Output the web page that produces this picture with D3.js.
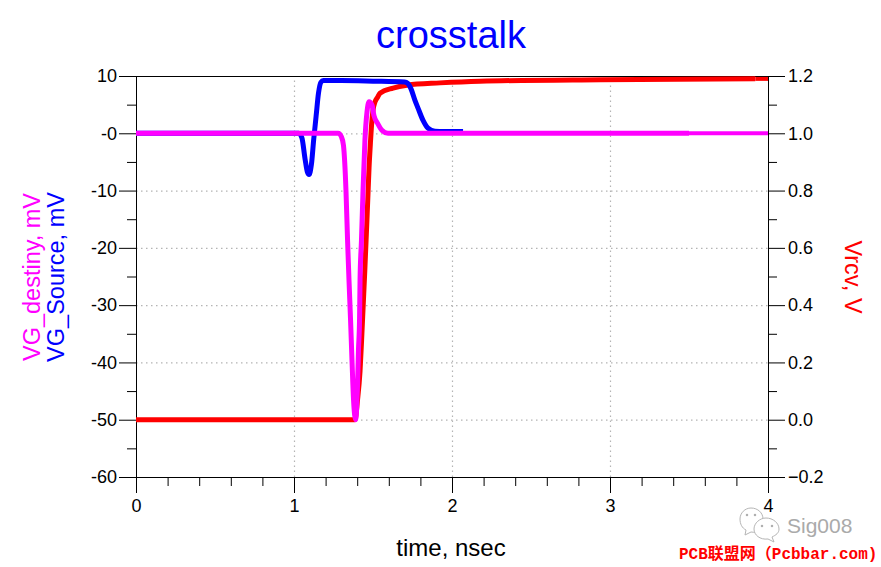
<!DOCTYPE html>
<html>
<head>
<meta charset="utf-8">
<script src="https://cdn.jsdelivr.net/npm/d3@7"></script>
<style>
  html, body { margin: 0; padding: 0; background: #fff; }
  svg { display: block; }
  text { font-family: "Liberation Sans", Arial, sans-serif; }
  .domain { stroke: #000; }
  .grid line { stroke: #b4b4b4; stroke-width: 1.2; stroke-dasharray: 1.5 3.5; }
  .grid .domain { display: none; }
</style>
</head>
<body>
<div id="chart"></div>
<script>
// values
const sourceTime = [0, 1.03, 1.05, 1.07, 1.085, 1.095, 1.11, 1.125, 1.14, 1.155, 1.17, 1.185, 1.3, 1.5, 1.7, 1.72, 1.74, 1.765, 1.785, 1.816, 1.848, 1.892, 1.95, 2.07];
const sourceMv = [0, 0, -0.8, -4.5, -6.8, -7.2, -5.5, -1, 3, 7, 8.9, 9.2, 9.2, 9.1, 8.95, 8.7, 7.8, 5.8, 4.4, 2.3, 0.9, 0.35, 0.3, 0.3];

const destinyTime = [0, 1.28, 1.3, 1.313, 1.329, 1.339, 1.348, 1.358, 1.367, 1.377, 1.39, 1.402, 1.408, 1.415, 1.418, 1.427, 1.437, 1.449, 1.462, 1.475, 1.494, 1.506, 1.532, 1.557, 1.595, 2, 3, 3.5];
const destinyMv = [0, 0, -0.6, -2.1, -10, -18.7, -25.6, -32.6, -39.6, -46.6, -50, -44, -37.9, -32.3, -25.6, -18.7, -9.9, -1.2, 3.7, 5.5, 4.9, 3.1, 1.6, 0.5, 0, 0, 0, 0];

const rcvTime = [0, 1.386, 1.402, 1.418, 1.428, 1.438, 1.448, 1.458, 1.467, 1.475, 1.483, 1.491, 1.5, 1.513, 1.53, 1.544, 1.627, 1.715, 1.924, 2.177, 2.94, 3.92];
const rcvV = [0, 0, 0.069, 0.17, 0.28, 0.4, 0.52, 0.65, 0.77, 0.88, 0.96, 1.03, 1.08, 1.11, 1.127, 1.14, 1.158, 1.168, 1.176, 1.182, 1.187, 1.19];

const timeTicks = [0, 1, 2, 3, 4];
const timeMinor = [0.2, 0.4, 0.6, 0.8, 1.2, 1.4, 1.6, 1.8, 2.2, 2.4, 2.6, 2.8, 3.2, 3.4, 3.6, 3.8];
const mvTicks = [10, 0, -10, -20, -30, -40, -50, -60];
const mvLabels = ["10", "-0", "-10", "-20", "-30", "-40", "-50", "-60"];
const mvMinor = [5, -5, -15, -25, -35, -45, -55];
const vTicks = [1.2, 1, 0.8, 0.6, 0.4, 0.2, 0, -0.2];
const vMinor = [1.1, 0.9, 0.7, 0.5, 0.3, 0.1, -0.1];

const width = 881, height = 567;
const left = 136, right = 768, top_ = 76, bottom = 477;

const x = d3.scaleLinear().domain([0, 4]).range([left, right]);
const yMv = d3.scaleLinear().domain([-60, 10]).range([bottom, top_]);
const yV = d3.scaleLinear().domain([-0.2, 1.2]).range([bottom, top_]);

const svg = d3.select("#chart").append("svg").attr("width", width).attr("height", height);

// grid
svg.append("g").attr("class", "grid")
  .attr("transform", `translate(0,${bottom})`)
  .call(d3.axisBottom(x).tickValues(timeTicks.slice(1, -1)).tickSize(top_ - bottom).tickFormat(""));
svg.append("g").attr("class", "grid")
  .attr("transform", `translate(${left},0)`)
  .call(d3.axisRight(yMv).tickValues(mvTicks.slice(1, -1)).tickSize(right - left).tickFormat(""));

// top line
svg.append("line").attr("x1", left).attr("x2", right).attr("y1", top_ + 0.5).attr("y2", top_ + 0.5).attr("stroke", "#000");

// minor ticks first, majors on top
svg.append("g").attr("transform", `translate(0,${bottom})`)
  .call(d3.axisBottom(x).tickValues(timeMinor).tickSize(9).tickSizeOuter(0).tickFormat(""));
svg.append("g").attr("transform", `translate(${left},0)`)
  .call(d3.axisLeft(yMv).tickValues(mvMinor).tickSize(9).tickSizeOuter(0).tickFormat(""));
svg.append("g").attr("transform", `translate(${right},0)`)
  .call(d3.axisRight(yV).tickValues(vMinor).tickSize(9).tickSizeOuter(0).tickFormat(""));

const xAxis = svg.append("g").attr("transform", `translate(0,${bottom})`)
  .call(d3.axisBottom(x).tickValues(timeTicks).tickSize(16).tickSizeOuter(0).tickPadding(6).tickFormat(d3.format("d")));
const mvAxis = svg.append("g").attr("transform", `translate(${left},0)`)
  .call(d3.axisLeft(yMv).tickValues(mvTicks).tickSize(17).tickSizeOuter(0).tickPadding(2).tickFormat((d, i) => mvLabels[i]));
const vAxis = svg.append("g").attr("transform", `translate(${right},0)`)
  .call(d3.axisRight(yV).tickValues(vTicks).tickSize(17).tickSizeOuter(0).tickPadding(3).tickFormat(d3.format(".1f")));

[xAxis, mvAxis, vAxis].forEach((a) => {
  a.selectAll("text").style("font-size", "18px").attr("fill", "#000");
  a.selectAll("line").attr("stroke", "#000");
});

// curves
const line = (yScale) => d3.line().x((d) => x(d[0])).y((d) => yScale(d[1])).curve(d3.curveMonotoneX);

function drawCurve(points, yScale, color, w) {
  svg.append("path")
    .datum(points)
    .attr("d", line(yScale))
    .attr("fill", "none")
    .attr("stroke", color)
    .attr("stroke-width", w);
}

const rcvPoints = d3.zip(rcvTime, rcvV);
drawCurve(rcvPoints, yV, "#ff0000", 5);
drawCurve([rcvPoints[rcvPoints.length - 1], [4, 1.19]], yV, "#ff0000", 4);
drawCurve(d3.zip(sourceTime, sourceMv), yMv, "#0000ff", 5);
const destinyPoints = d3.zip(destinyTime, destinyMv);
drawCurve(destinyPoints, yMv, "#ff00ff", 5);
drawCurve([destinyPoints[destinyPoints.length - 1], [4, 0]], yMv, "#ff00ff", 4);

// titles
svg.append("text").attr("x", 451).attr("y", 48).attr("text-anchor", "middle")
  .style("font-size", "38px").attr("fill", "#0000ff").text("crosstalk");
svg.append("text").attr("x", 451).attr("y", 556).attr("text-anchor", "middle")
  .style("font-size", "24px").attr("fill", "#000").text("time, nsec");

function sideLabel(tx, ty, angle, color, label) {
  svg.append("text").attr("transform", `translate(${tx},${ty}) rotate(${angle})`)
    .attr("text-anchor", "middle").style("font-size", "23.5px").attr("fill", color).text(label);
}
sideLabel(40, 277, -90, "#ff00ff", "VG_destiny, mV");
sideLabel(64, 277, -90, "#0000ff", "VG_Source, mV");
sideLabel(845, 277, 90, "#ff0000", "Vrcv, V");

// watermark
const mark = svg.append("g").attr("fill", "#fff").attr("stroke", "#b5b5b5").attr("stroke-width", 1);
mark.append("path").attr("d", "M746 530 l-1 5 6 -3 c8 1 12 0 12 -1 l0 -12 c0 -6 -5 -11 -12 -11 c-6 0 -11 5 -11 11 c0 5 2 9 6 11 z");
mark.append("path").attr("d", "M772 537 l2 5 -6 -3 c-8 1 -14 -4 -14 -10 c0 -6 6 -11 12 -11 c7 0 13 5 13 11 c0 4 -3 6 -7 8 z");
[[747, 515], [755, 515], [762, 526], [772, 526]].forEach((p) => {
  mark.append("circle").attr("cx", p[0]).attr("cy", p[1]).attr("r", 0.8).attr("stroke", "#999");
});
svg.append("text").attr("x", 787).attr("y", 533)
  .style("font-size", "21px").style("font-family", "'Liberation Sans'").attr("fill", "#aaa").text("Sig008");
svg.append("text").attr("x", 679).attr("y", 559)
  .style("font-size", "16px").style("font-weight", "bold").style("font-family", "'Liberation Mono','Noto Sans CJK SC'")
  .attr("fill", "#ff0000").text("PCB联盟网（Pcbbar.com)");
</script>
</body>
</html>
